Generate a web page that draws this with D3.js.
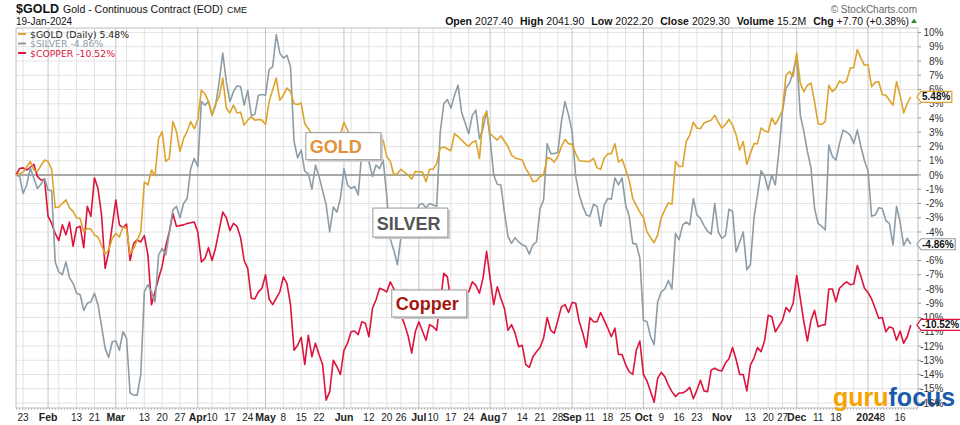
<!DOCTYPE html>
<html>
<head>
<meta charset="utf-8">
<script src="https://cdn.jsdelivr.net/npm/d3@7"></script>
<style>
  body { margin: 0; background: #fff; }
  svg { display: block; font-family: "Liberation Sans", Arial, sans-serif; }
</style>
</head>
<body>
<svg id="chart" width="960" height="425"></svg>
<script>
// x = trading session since 19-Jan-2023 (day 0) .. 19-Jan-2024 (day 251), y = % change
const goldPts = [[0,0],[2,0.2],[4,0.95],[5,0.35],[6,0.25],[8,1.05],[9,0.95],[10,0.4],[11,-2.3],[12,-2.25],[14,-1.75],[15,-2.3],[16,-2.55],[17,-3.0],[18,-3.05],[19,-4.0],[20,-3.75],[21,-3.8],[22,-4.2],[23,-4.35],[25,-5.55],[26,-5.25],[27,-4.45],[28,-4.1],[29,-4.35],[30,-3.65],[31,-3.75],[32,-5.55],[33,-5.15],[35,-4.0],[36,-0.5],[37,-0.7],[38,0.35],[39,-0.05],[40,2.55],[41,3.05],[42,0.95],[43,1.15],[44,3.75],[45,3.05],[46,1.65],[47,2.55],[48,3.05],[49,3.75],[50,3.25],[51,3.9],[52,5.95],[53,5.7],[54,5.15],[55,4.2],[56,5.0],[57,5.5],[58,6.8],[59,4.7],[60,4.35],[61,4.9],[62,4.35],[63,4.4],[64,3.5],[65,3.85],[66,4.1],[67,3.85],[68,3.9],[69,3.85],[70,3.55],[71,5.15],[73,6.8],[74,5.25],[75,5.6],[76,6.1],[77,5.85],[78,5.0],[79,4.95],[80,5.05],[81,3.6],[82,3.25],[84,2.5],[87,1.5],[88,1.05],[90,2.0],[92,3.7],[94,2.6],[96,2.3],[98,2.0],[100,2.3],[103,2.45],[104,1.3],[105,0.95],[106,0],[107,0.1],[108,0.4],[110,0],[111,-0.3],[112,0.25],[114,0.2],[115,-0.47],[116,0.4],[117,0.4],[118,0.8],[119,1.9],[120,1.97],[122,1.7],[123,2.9],[124,2.7],[126,2.2],[127,2.0],[128,2.3],[129,2.4],[130,1.15],[131,4.0],[132,4.45],[133,2.9],[135,2.45],[136,2.75],[138,2.0],[139,1.4],[140,1.2],[142,1.05],[143,0.45],[144,0.05],[145,-0.47],[146,-0.42],[147,-0.1],[148,0],[149,1.2],[150,1.15],[151,0.9],[152,1.3],[153,2.0],[154,2.5],[155,2.2],[156,2.15],[157,1.5],[158,1.0],[160,0.95],[161,0.95],[162,1.17],[163,0.5],[164,0.4],[165,1.17],[166,1.5],[167,1.5],[168,2.2],[169,0.9],[170,1.1],[171,0.4],[172,-0.35],[173,-1.65],[175,-2.6],[176,-3.0],[177,-4.0],[178,-4.4],[179,-4.75],[180,-4.2],[181,-3.0],[182,-2.45],[183,-1.95],[184,-2.05],[185,0.95],[186,0.6],[187,0.6],[188,2.35],[189,2.8],[190,3.7],[191,3.3],[192,3.25],[193,3.65],[194,3.75],[195,3.85],[196,4.2],[197,3.7],[198,3.3],[199,3.55],[200,3.9],[201,3.5],[202,2.8],[203,1.75],[204,2.35],[205,0.75],[206,1.5],[207,2.2],[208,2.2],[209,3.3],[210,3.1],[211,3.0],[212,4.0],[213,3.55],[214,4.0],[215,4.55],[216,7.0],[217,7.25],[218,6.9],[219,8.55],[220,6.45],[221,5.85],[222,6.3],[223,6.45],[224,5.15],[225,3.6],[226,3.55],[227,3.75],[228,6.3],[229,5.85],[230,6.1],[231,6.6],[232,6.45],[233,6.6],[234,7.5],[235,7.55],[236,8.8],[237,8.2],[238,7.7],[239,7.75],[240,6.2],[241,6.5],[242,6.55],[243,5.65],[244,5.6],[245,5.25],[246,4.9],[247,6.55],[248,5.6],[249,4.35],[250,5.0],[251,5.48]];

const silverPts = [[0,0],[1,-0.1],[2,-1.3],[3,-0.7],[4,0.5],[6,-0.95],[7,-0.65],[8,-0.25],[9,-1.05],[10,-1.1],[11,-6.1],[12,-6.8],[13,-7.0],[14,-6.1],[15,-7.2],[16,-7.6],[17,-8.3],[18,-8.4],[19,-9.5],[20,-9.0],[21,-8.9],[22,-8.3],[23,-9.1],[24,-10.6],[25,-12.15],[26,-12.8],[27,-11.7],[28,-11.65],[29,-12.3],[30,-11.0],[31,-11.45],[32,-15.3],[33,-15.45],[34,-15.45],[35,-14.0],[36,-8.2],[37,-7.7],[38,-8.2],[39,-8.9],[40,-5.6],[41,-5.15],[42,-5.6],[43,-4.1],[44,-2.45],[45,-2.2],[46,-3.0],[47,-2.0],[48,-1.65],[49,0.45],[50,1.15],[51,0.6],[52,5.15],[53,4.9],[54,5.15],[55,4.2],[56,4.9],[57,6.55],[58,8.55],[59,6.55],[60,5.15],[61,5.85],[62,6.25],[63,6.2],[64,4.9],[65,5.95],[66,4.2],[67,4.25],[68,5.6],[69,5.65],[70,5.6],[71,7.4],[72,7.6],[73,9.85],[74,8.55],[75,8.2],[76,8.4],[77,7.6],[78,2.35],[79,1.2],[80,1.75],[81,0.25],[82,0.1],[83,-1.0],[84,0.7],[85,-0.1],[87,-2.1],[88,-4.0],[89,-2.25],[90,-2.6],[91,-1.65],[92,0.45],[93,-0.7],[94,-0.95],[95,-0.8],[96,-1.4],[97,1.6],[98,1.3],[99,0.95],[100,-0.1],[101,0.7],[102,0.45],[103,1.05],[104,-1.5],[105,-4.5],[106,-5.3],[107,-6.3],[108,-4.3],[109,-3.6],[110,-4.0],[111,-4.45],[112,-3.0],[113,-2.1],[114,-2.0],[115,-2.3],[116,-2.0],[117,-2.1],[118,-2.2],[119,3.0],[120,5.0],[121,5.3],[122,4.7],[123,5.6],[124,6.3],[125,4.4],[127,2.9],[128,4.2],[129,4.55],[130,2.55],[131,3.25],[132,4.5],[133,2.55],[134,0],[135,-0.65],[136,-0.7],[137,-2.6],[138,-4.3],[139,-4.8],[140,-4.4],[141,-4.7],[142,-4.9],[143,-5.0],[144,-5.55],[145,-4.9],[146,-4.7],[147,-2.35],[148,-1.75],[149,2.2],[150,1.5],[151,1.5],[152,1.6],[153,3.75],[154,5.15],[155,4.2],[156,3.05],[157,-0.1],[158,-1.4],[159,-2.2],[160,-2.8],[161,-2.9],[162,-2.05],[163,-2.2],[164,-3.6],[165,-2.1],[166,-1.65],[167,-1.7],[168,-0.2],[169,-0.7],[170,-0.2],[171,-2.1],[172,-2.9],[173,-4.8],[174,-4.85],[175,-5.85],[176,-10.2],[177,-10.3],[178,-11.35],[179,-11.9],[180,-8.9],[181,-8.2],[182,-8.0],[183,-7.4],[184,-8.0],[185,-4.1],[186,-4.55],[187,-3.5],[188,-3.3],[189,-3.5],[190,-1.65],[191,-2.8],[192,-3.05],[193,-3.55],[194,-3.95],[195,-4.15],[196,-2.0],[197,-4.0],[198,-4.45],[199,-4.25],[200,-2.4],[201,-2.55],[202,-5.4],[203,-4.7],[204,-4.0],[205,-6.65],[206,-6.3],[207,-3.05],[208,-1.4],[209,0.3],[210,-0.1],[211,-1.05],[212,0],[213,-0.7],[214,1.65],[215,4.45],[216,6.1],[217,6.45],[218,7.25],[219,8.35],[220,4.2],[221,3.05],[222,1.65],[223,0.5],[224,-2.35],[225,-3.4],[226,-3.6],[227,-3.85],[228,2.1],[229,1.3],[230,1.05],[231,2.2],[232,3.15],[233,3.0],[234,2.8],[235,2.2],[236,3.15],[237,2.0],[238,1.0],[239,0.3],[240,-2.9],[241,-2.8],[242,-2.3],[243,-2.35],[244,-3.2],[245,-3.4],[246,-4.9],[247,-2.2],[248,-3.3],[249,-4.95],[250,-4.45],[251,-4.86]];

const copperPts = [[0,0],[1,0.45],[2,0.5],[3,0.35],[5,0.75],[6,-0.1],[7,-0.35],[8,-0.3],[9,-2.9],[10,-3.4],[11,-4.1],[12,-4.6],[13,-3.5],[14,-4.2],[15,-3.3],[16,-5.0],[17,-3.7],[18,-3.6],[19,-5.1],[20,-2.2],[21,-2.9],[22,-0.2],[23,-0.95],[24,-2.8],[25,-6.55],[26,-5.4],[28,-1.75],[29,-3.5],[30,-3.7],[31,-3.45],[32,-6.0],[33,-4.8],[34,-4.55],[35,-4.7],[36,-4.25],[37,-5.6],[38,-9.1],[39,-8.2],[40,-7.25],[41,-6.4],[42,-5.0],[43,-4.0],[44,-2.7],[45,-3.6],[47,-3.5],[48,-3.4],[50,-3.3],[51,-4.0],[52,-6.1],[53,-5.85],[54,-5.1],[55,-6.0],[56,-5.1],[58,-2.6],[59,-3.0],[60,-3.9],[61,-3.4],[62,-3.6],[63,-4.4],[64,-6.0],[65,-6.55],[66,-8.65],[67,-8.7],[68,-8.2],[69,-7.95],[70,-7.0],[71,-8.7],[72,-9.1],[73,-8.65],[74,-8.2],[75,-7.15],[76,-7.6],[77,-9.1],[78,-12.3],[79,-11.95],[80,-11.4],[81,-13.3],[82,-11.25],[83,-12.75],[84,-11.8],[85,-12.6],[86,-13.3],[87,-15.8],[88,-15.2],[89,-13.0],[90,-13.45],[91,-14.0],[92,-12.3],[93,-11.8],[94,-11.0],[95,-10.95],[96,-11.2],[97,-10.3],[98,-10.4],[99,-11.35],[100,-9.35],[101,-8.75],[102,-7.95],[103,-8.05],[104,-8.2],[105,-7.5],[106,-8.0],[107,-9.1],[108,-9.8],[109,-10.5],[110,-11.3],[111,-12.5],[112,-11.0],[113,-10.3],[115,-11.6],[116,-10.5],[117,-10.65],[118,-10.9],[119,-9.0],[120,-6.9],[121,-7.15],[122,-8.9],[123,-8.6],[124,-9.7],[126,-8.4],[127,-8.2],[128,-7.5],[129,-7.75],[130,-8.3],[131,-7.25],[132,-5.35],[133,-7.25],[134,-9.1],[135,-7.85],[136,-8.65],[137,-9.35],[138,-10.9],[139,-10.5],[140,-11.1],[141,-12.05],[142,-11.95],[143,-13.3],[144,-13.5],[145,-12.75],[146,-12.4],[147,-12.1],[148,-11.45],[149,-10.0],[150,-10.9],[151,-11.1],[152,-10.2],[153,-9.25],[154,-9.1],[155,-9.65],[156,-8.95],[157,-9.0],[158,-10.3],[159,-11.1],[160,-12.1],[161,-10.0],[162,-10.3],[163,-10.3],[164,-9.65],[165,-10.2],[166,-10.75],[167,-11.35],[168,-10.75],[169,-12.6],[170,-12.6],[171,-13.3],[172,-13.8],[173,-14.0],[174,-12.3],[175,-11.65],[176,-14.0],[177,-14.45],[178,-15.2],[179,-15.95],[180,-14.25],[181,-13.85],[182,-14.15],[183,-14.75],[184,-15.2],[185,-15.55],[186,-15.3],[187,-15.3],[188,-15.15],[189,-14.9],[190,-15.7],[191,-15.1],[192,-14.4],[193,-15.15],[194,-15.2],[195,-13.7],[196,-13.55],[197,-13.7],[198,-13.75],[199,-13.2],[200,-12.9],[201,-12.1],[202,-12.95],[203,-14.0],[204,-14.0],[205,-15.15],[206,-13.35],[207,-12.85],[208,-12.1],[209,-12.4],[210,-11.6],[211,-9.85],[212,-9.95],[213,-11.0],[214,-10.6],[215,-10.2],[216,-9.3],[217,-9.6],[218,-9.0],[219,-7.05],[220,-8.65],[221,-10.3],[222,-11.65],[223,-10.2],[224,-9.5],[225,-10.65],[226,-10.55],[227,-10.5],[228,-8.0],[229,-8.0],[230,-8.9],[231,-7.95],[232,-7.7],[233,-7.5],[234,-7.7],[235,-7.65],[236,-6.35],[237,-7.1],[238,-7.95],[239,-8.25],[240,-8.7],[241,-9.35],[242,-10.05],[243,-10.0],[244,-11.0],[245,-10.65],[246,-10.75],[247,-11.6],[248,-10.95],[249,-11.8],[250,-11.35],[251,-10.52]];

const seriesNames = ['$GOLD (Daily) 5.48%', '$SILVER -4.86%', '$COPPER -10.52%'];
const seriesLast = [5.48, -4.86, -10.52];
const seriesColors = ['#dca42c', '#8d9ca6', '#dc143c'];
const legendText = ['#222', '#8d9ca6', '#dc143c'];

const monthDays = [9, 28, 51, 70, 92, 113, 133, 156, 176, 198, 219, 239];
const monthLabels = ['Feb', 'Mar', 'Apr', 'May', 'Jun', 'Jul', 'Aug', 'Sep', 'Oct', 'Nov', 'Dec', '2024'];
const weekDays = [2, 12, 17, 22, 31, 36, 41, 46, 55, 60, 65, 75, 80, 85, 94, 99, 104, 108, 117, 122, 127, 137, 142, 147, 152, 161, 166, 171, 181, 186, 191, 201, 206, 211, 215, 225, 230, 235, 243, 248];
const weekLabels = ['23', '', '13', '21', '', '13', '20', '27', '10', '17', '24', '8', '15', '22', '', '12', '20', '26', '10', '17', '24', '7', '14', '21', '28', '11', '18', '25', '9', '16', '23', '', '13', '20', '27', '11', '18', '', '8', '16'];
const pctTicks = [10, 9, 8, 7, 6, 5, 4, 3, 2, 1, 0, -1, -2, -3, -4, -5, -6, -7, -8, -9, -10, -11, -12, -13, -14, -15, -16];

const quoteLabels = ['Open', 'High', 'Low', 'Close', 'Volume', 'Chg'];
const quoteValues = ['2027.40', '2041.90', '2022.20', '2029.30', '15.2M', '+7.70 (+0.38%)'];

const callouts = [
  {text: 'GOLD', color: '#e2923a', day: 81.3, pct: 2.97, h: 27},
  {text: 'SILVER', color: '#555', day: 100.1, pct: -2.32, h: 29},
  {text: 'Copper', color: '#a3170f', day: 105.4, pct: -8.07, h: 27}
];

let plot = {left: 16, right: 918, top: 28, bottom: 408};
let svg = d3.select('#chart');

let x = d3.scaleLinear().domain([0, 251]).range([16, 910.8]);
let y = d3.scaleLinear().domain([-16, 10]).range([403, 32.5]);

// grid
let grid = svg.append('g').attr('class', 'grid');
grid.selectAll('line.h')
  .data(pctTicks)
  .enter().append('line')
  .attr('class', 'h')
  .attr('x1', plot.left).attr('x2', plot.right)
  .attr('y1', d => y(d)).attr('y2', d => y(d))
  .attr('stroke', '#e4e4e4');
grid.selectAll('line.w')
  .data(weekDays)
  .enter().append('line')
  .attr('class', 'w')
  .attr('x1', d => x(d)).attr('x2', d => x(d))
  .attr('y1', plot.top).attr('y2', plot.bottom)
  .attr('stroke', '#e2e2e2');
grid.selectAll('line.m')
  .data(monthDays)
  .enter().append('line')
  .attr('class', 'm')
  .attr('x1', d => x(d)).attr('x2', d => x(d))
  .attr('y1', plot.top).attr('y2', plot.bottom)
  .attr('stroke', '#c4c4c4');

svg.append('rect')
  .attr('x', plot.left).attr('y', plot.top)
  .attr('width', plot.right - plot.left).attr('height', plot.bottom - plot.top)
  .attr('fill', 'none').attr('stroke', '#bdbdbd');
svg.append('line')
  .attr('x1', plot.left).attr('x2', plot.right)
  .attr('y1', plot.bottom + 1).attr('y2', plot.bottom + 1)
  .attr('stroke', '#999').attr('stroke-dasharray', '1,2');

svg.append('line')
  .attr('x1', plot.left).attr('x2', plot.right)
  .attr('y1', y(0)).attr('y2', y(0))
  .attr('stroke', '#8f8f8f').attr('stroke-width', 1.3);

// series
let line = d3.line().x(d => x(d[0])).y(d => y(d[1]));
let allSeries = [goldPts, silverPts, copperPts];
[2, 1, 0].forEach(idx => {
  svg.append('path')
    .datum(allSeries[idx])
    .attr('d', line)
    .attr('fill', 'none')
    .attr('stroke', seriesColors[idx])
    .attr('stroke-width', 1.6)
    .attr('stroke-linejoin', 'round');
});

// callout boxes
callouts.forEach(c => {
  let bx = x(c.day), by = y(c.pct);
  let g = svg.append('g').attr('transform', 'translate(' + bx + ',' + by + ')');
  g.append('rect').attr('x', 2).attr('y', 2).attr('width', 75).attr('height', c.h).attr('fill', '#c9c9c9');
  g.append('rect').attr('width', 75).attr('height', c.h).attr('fill', '#fff').attr('stroke', '#9a9a9a');
  g.append('text')
    .attr('x', 4).attr('y', c.h - 7)
    .attr('font-size', 18).attr('font-weight', 'bold')
    .attr('fill', c.color)
    .text(c.text);
});

// legend
let legend = svg.append('g').attr('font-family', '"DejaVu Sans", Verdana, sans-serif').attr('font-size', 9.3);
seriesNames.forEach((name, idx) => {
  let base = 37.5 + idx * 9.5;
  legend.append('line')
    .attr('x1', 18).attr('x2', 26)
    .attr('y1', base - 3.5).attr('y2', base - 3.5)
    .attr('stroke', seriesColors[idx]).attr('stroke-width', 2);
  legend.append('text')
    .attr('x', 30).attr('y', base)
    .attr('fill', legendText[idx])
    .text(name);
});

// gurufocus logo
let logo = svg.append('text')
  .attr('x', 833).attr('y', 406)
  .attr('font-size', 25).attr('font-weight', 'bold');
logo.append('tspan').attr('fill', '#f5a300').text('guru');
logo.append('tspan').attr('fill', '#1b5aa8').text('focus');

// right axis (labels fully under a last-value tag are left out, as in the original)
let visibleTicks = pctTicks.filter(d => !seriesLast.some(v => Math.abs(y(d) - y(v)) < 3));
let axisR = svg.append('g');
axisR.selectAll('line')
  .data(pctTicks)
  .enter().append('line')
  .attr('x1', plot.right).attr('x2', plot.right + 3)
  .attr('y1', d => y(d)).attr('y2', d => y(d))
  .attr('stroke', '#999');
axisR.selectAll('text')
  .data(visibleTicks)
  .enter().append('text')
  .attr('x', 943.5).attr('y', d => y(d) + 3.5)
  .attr('text-anchor', 'end')
  .attr('font-size', 10)
  .attr('fill', '#333')
  .text(d => d + '%');

// last-value tags
seriesLast.forEach((v, idx) => {
  let ty = y(v);
  let g = svg.append('g');
  let t = g.append('text')
    .attr('x', 922).attr('y', ty + 3.5)
    .attr('font-size', 10).attr('font-weight', 'bold')
    .attr('fill', '#111')
    .text(v.toFixed(2) + '%');
  let w = t.node().getComputedTextLength();
  let r = 922 + w + 1.5;
  g.insert('path', 'text')
    .attr('d', 'M917,' + ty + ' L921,' + (ty - 5.5) + ' L' + r + ',' + (ty - 5.5) +
      ' L' + r + ',' + (ty + 5.5) + ' L921,' + (ty + 5.5) + ' Z')
    .attr('fill', '#fff')
    .attr('stroke', seriesColors[idx]).attr('stroke-width', 1.2);
});

// bottom axis labels
let axisB = svg.append('g').attr('fill', '#222');
axisB.selectAll('text.wk')
  .data(weekDays.filter((d, i) => weekLabels[i] !== ''))
  .enter().append('text')
  .attr('class', 'wk')
  .attr('x', d => x(d)).attr('y', 420.5)
  .attr('text-anchor', 'middle')
  .attr('font-size', 10)
  .text(d => weekLabels[weekDays.indexOf(d)]);
axisB.selectAll('text.mo')
  .data(monthDays)
  .enter().append('text')
  .attr('class', 'mo')
  .attr('x', d => x(d)).attr('y', 420.5)
  .attr('text-anchor', 'middle')
  .attr('font-size', 10.5).attr('font-weight', 'bold')
  .text((d, i) => monthLabels[i]);

// header
let title = svg.append('text').attr('x', 16).attr('y', 13).attr('fill', '#111');
title.append('tspan').attr('font-size', 12.5).attr('font-weight', 'bold').text('$GOLD');
title.append('tspan').attr('font-size', 10.5).attr('dx', 4).text('Gold - Continuous Contract (EOD)');
title.append('tspan').attr('font-size', 9).attr('dx', 4).text('CME');

svg.append('text')
  .attr('x', 16).attr('y', 25)
  .attr('font-size', 10).attr('fill', '#111')
  .text('19-Jan-2024');

svg.append('text')
  .attr('x', 917).attr('y', 13)
  .attr('text-anchor', 'end')
  .attr('font-size', 10).attr('fill', '#666')
  .text('\u00a9 StockCharts.com');

let quote = svg.append('text')
  .attr('x', 909).attr('y', 25)
  .attr('text-anchor', 'end')
  .attr('font-size', 10.5).attr('fill', '#111');
quoteLabels.forEach((lab, i) => {
  quote.append('tspan').attr('font-weight', 'bold').attr('dx', i ? 7 : 0).text(lab);
  quote.append('tspan').attr('dx', 3).text(quoteValues[i]);
});
svg.append('path')
  .attr('d', 'M911,23 L914,18.5 L917,23 Z')
  .attr('fill', '#2f8f2f');
</script>
</body>
</html>
